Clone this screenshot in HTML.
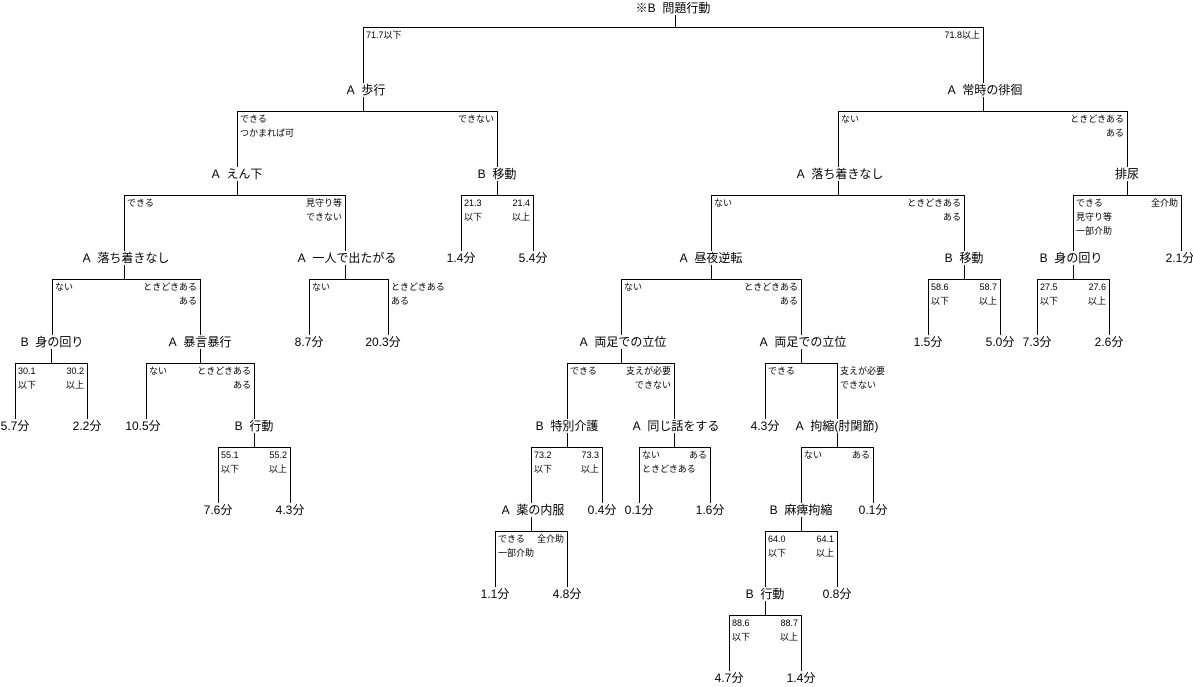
<!DOCTYPE html>
<html><head><meta charset="utf-8">
<style>
html,body{margin:0;padding:0;background:#fff;}
svg{display:block;}
text{font-family:"Liberation Sans","Noto Sans CJK JP",sans-serif;fill:#000;dominant-baseline:central;}
.n{font-size:12px;text-anchor:middle;}
.b{font-size:9px;}
.r{text-anchor:end;}
line{stroke:#000;stroke-width:1;shape-rendering:crispEdges;}
</style></head><body>
<svg width="1193" height="687" viewBox="0 0 1193 687" xmlns="http://www.w3.org/2000/svg">
<g>
<line x1="675.5" y1="15" x2="675.5" y2="27.5"/><line x1="363" y1="27.5" x2="984" y2="27.5"/>
<line x1="363.5" y1="27" x2="363.5" y2="83"/><line x1="983.5" y1="27" x2="983.5" y2="83"/>
<line x1="363.5" y1="97" x2="363.5" y2="111.5"/><line x1="237" y1="111.5" x2="498" y2="111.5"/>
<line x1="237.5" y1="111" x2="237.5" y2="167"/><line x1="497.5" y1="111" x2="497.5" y2="167"/>
<line x1="983.5" y1="97" x2="983.5" y2="111.5"/><line x1="838" y1="111.5" x2="1128" y2="111.5"/>
<line x1="838.5" y1="111" x2="838.5" y2="167"/><line x1="1127.5" y1="111" x2="1127.5" y2="167"/>
<line x1="237.5" y1="181" x2="237.5" y2="195.5"/><line x1="124" y1="195.5" x2="346" y2="195.5"/>
<line x1="124.5" y1="195" x2="124.5" y2="251"/><line x1="345.5" y1="195" x2="345.5" y2="251"/>
<line x1="497.5" y1="181" x2="497.5" y2="195.5"/><line x1="461" y1="195.5" x2="534" y2="195.5"/>
<line x1="461.5" y1="195" x2="461.5" y2="251"/><line x1="533.5" y1="195" x2="533.5" y2="251"/>
<line x1="838.5" y1="181" x2="838.5" y2="195.5"/><line x1="711" y1="195.5" x2="965" y2="195.5"/>
<line x1="711.5" y1="195" x2="711.5" y2="251"/><line x1="964.5" y1="195" x2="964.5" y2="251"/>
<line x1="1127.5" y1="181" x2="1127.5" y2="195.5"/><line x1="1073" y1="195.5" x2="1182" y2="195.5"/>
<line x1="1073.5" y1="195" x2="1073.5" y2="251"/><line x1="1181.5" y1="195" x2="1181.5" y2="251"/>
<line x1="124.5" y1="265" x2="124.5" y2="279.5"/><line x1="52" y1="279.5" x2="201" y2="279.5"/>
<line x1="52.5" y1="279" x2="52.5" y2="335"/><line x1="200.5" y1="279" x2="200.5" y2="335"/>
<line x1="345.5" y1="265" x2="345.5" y2="279.5"/><line x1="309" y1="279.5" x2="389" y2="279.5"/>
<line x1="309.5" y1="279" x2="309.5" y2="335"/><line x1="388.5" y1="279" x2="388.5" y2="335"/>
<line x1="711.5" y1="265" x2="711.5" y2="279.5"/><line x1="621" y1="279.5" x2="802" y2="279.5"/>
<line x1="621.5" y1="279" x2="621.5" y2="335"/><line x1="801.5" y1="279" x2="801.5" y2="335"/>
<line x1="964.5" y1="265" x2="964.5" y2="279.5"/><line x1="928" y1="279.5" x2="1001" y2="279.5"/>
<line x1="928.5" y1="279" x2="928.5" y2="335"/><line x1="1000.5" y1="279" x2="1000.5" y2="335"/>
<line x1="1073.5" y1="265" x2="1073.5" y2="279.5"/><line x1="1037" y1="279.5" x2="1110" y2="279.5"/>
<line x1="1037.5" y1="279" x2="1037.5" y2="335"/><line x1="1109.5" y1="279" x2="1109.5" y2="335"/>
<line x1="51.5" y1="349" x2="51.5" y2="363.5"/><line x1="15" y1="363.5" x2="88" y2="363.5"/>
<line x1="15.5" y1="363" x2="15.5" y2="419"/><line x1="87.5" y1="363" x2="87.5" y2="419"/>
<line x1="200.5" y1="349" x2="200.5" y2="363.5"/><line x1="146" y1="363.5" x2="255" y2="363.5"/>
<line x1="146.5" y1="363" x2="146.5" y2="419"/><line x1="254.5" y1="363" x2="254.5" y2="419"/>
<line x1="621.5" y1="349" x2="621.5" y2="363.5"/><line x1="567" y1="363.5" x2="675" y2="363.5"/>
<line x1="567.5" y1="363" x2="567.5" y2="419"/><line x1="674.5" y1="363" x2="674.5" y2="419"/>
<line x1="801.5" y1="349" x2="801.5" y2="363.5"/><line x1="765" y1="363.5" x2="838" y2="363.5"/>
<line x1="765.5" y1="363" x2="765.5" y2="419"/><line x1="837.5" y1="363" x2="837.5" y2="419"/>
<line x1="254.5" y1="433" x2="254.5" y2="447.5"/><line x1="218" y1="447.5" x2="291" y2="447.5"/>
<line x1="218.5" y1="447" x2="218.5" y2="503"/><line x1="290.5" y1="447" x2="290.5" y2="503"/>
<line x1="567.5" y1="433" x2="567.5" y2="447.5"/><line x1="531" y1="447.5" x2="603" y2="447.5"/>
<line x1="531.5" y1="447" x2="531.5" y2="503"/><line x1="602.5" y1="447" x2="602.5" y2="503"/>
<line x1="674.5" y1="433" x2="674.5" y2="447.5"/><line x1="639" y1="447.5" x2="711" y2="447.5"/>
<line x1="639.5" y1="447" x2="639.5" y2="503"/><line x1="710.5" y1="447" x2="710.5" y2="503"/>
<line x1="837.5" y1="433" x2="837.5" y2="447.5"/><line x1="801" y1="447.5" x2="874" y2="447.5"/>
<line x1="801.5" y1="447" x2="801.5" y2="503"/><line x1="873.5" y1="447" x2="873.5" y2="503"/>
<line x1="531.5" y1="517" x2="531.5" y2="531.5"/><line x1="495" y1="531.5" x2="568" y2="531.5"/>
<line x1="495.5" y1="531" x2="495.5" y2="587"/><line x1="567.5" y1="531" x2="567.5" y2="587"/>
<line x1="801.5" y1="517" x2="801.5" y2="531.5"/><line x1="765" y1="531.5" x2="838" y2="531.5"/>
<line x1="765.5" y1="531" x2="765.5" y2="587"/><line x1="837.5" y1="531" x2="837.5" y2="587"/>
<line x1="765.5" y1="601" x2="765.5" y2="615.5"/><line x1="729" y1="615.5" x2="802" y2="615.5"/>
<line x1="729.5" y1="615" x2="729.5" y2="671"/><line x1="801.5" y1="615" x2="801.5" y2="671"/>
</g>

<g class="n">
<text x="673" y="8" class="n">※B&#160;&#160;問題行動</text>
<text x="366" y="90" class="n">A&#160;&#160;歩行</text>
<text x="985" y="90" class="n">A&#160;&#160;常時の徘徊</text>
<text x="237" y="174" class="n">A&#160;&#160;えん下</text>
<text x="497" y="174" class="n">B&#160;&#160;移動</text>
<text x="840" y="174" class="n">A&#160;&#160;落ち着きなし</text>
<text x="1127" y="174" class="n">排尿</text>
<text x="126" y="258" class="n">A&#160;&#160;落ち着きなし</text>
<text x="347" y="258" class="n">A&#160;&#160;一人で出たがる</text>
<text x="461" y="258" class="n">1.4分</text>
<text x="533" y="258" class="n">5.4分</text>
<text x="711" y="258" class="n">A&#160;&#160;昼夜逆転</text>
<text x="964" y="258" class="n">B&#160;&#160;移動</text>
<text x="1071" y="258" class="n">B&#160;&#160;身の回り</text>
<text x="1180" y="258" class="n">2.1分</text>
<text x="52" y="342" class="n">B&#160;&#160;身の回り</text>
<text x="200" y="342" class="n">A&#160;&#160;暴言暴行</text>
<text x="309" y="342" class="n">8.7分</text>
<text x="383" y="342" class="n">20.3分</text>
<text x="623" y="342" class="n">A&#160;&#160;両足での立位</text>
<text x="803" y="342" class="n">A&#160;&#160;両足での立位</text>
<text x="928" y="342" class="n">1.5分</text>
<text x="1000" y="342" class="n">5.0分</text>
<text x="1037" y="342" class="n">7.3分</text>
<text x="1109" y="342" class="n">2.6分</text>
<text x="15" y="426" class="n">5.7分</text>
<text x="87" y="426" class="n">2.2分</text>
<text x="143" y="426" class="n">10.5分</text>
<text x="254" y="426" class="n">B&#160;&#160;行動</text>
<text x="567" y="426" class="n">B&#160;&#160;特別介護</text>
<text x="676" y="426" class="n">A&#160;&#160;同じ話をする</text>
<text x="765" y="426" class="n">4.3分</text>
<text x="837" y="426" class="n">A&#160;&#160;拘縮(肘関節)</text>
<text x="218" y="510" class="n">7.6分</text>
<text x="290" y="510" class="n">4.3分</text>
<text x="533" y="510" class="n">A&#160;&#160;薬の内服</text>
<text x="602" y="510" class="n">0.4分</text>
<text x="639" y="510" class="n">0.1分</text>
<text x="710" y="510" class="n">1.6分</text>
<text x="801" y="510" class="n">B&#160;&#160;麻痺拘縮</text>
<text x="873" y="510" class="n">0.1分</text>
<text x="495" y="594" class="n">1.1分</text>
<text x="567" y="594" class="n">4.8分</text>
<text x="765" y="594" class="n">B&#160;&#160;行動</text>
<text x="837" y="594" class="n">0.8分</text>
<text x="729" y="678" class="n">4.7分</text>
<text x="801" y="678" class="n">1.4分</text>
</g>

<g class="b">
<text class="b" x="366" y="35">71.7以下</text>
<text class="b r" x="980" y="35">71.8以上</text>
<text class="b" x="240" y="119">できる</text>
<text class="b" x="240" y="133">つかまれば可</text>
<text class="b r" x="494" y="119">できない</text>
<text class="b" x="841" y="119">ない</text>
<text class="b r" x="1124" y="119">ときどきある</text>
<text class="b r" x="1124" y="133">ある</text>
<text class="b" x="127" y="203">できる</text>
<text class="b r" x="342" y="203">見守り等</text>
<text class="b r" x="342" y="217">できない</text>
<text class="b" x="464" y="203">21.3</text>
<text class="b" x="464" y="217">以下</text>
<text class="b r" x="530" y="203">21.4</text>
<text class="b r" x="530" y="217">以上</text>
<text class="b" x="714" y="203">ない</text>
<text class="b r" x="961" y="203">ときどきある</text>
<text class="b r" x="961" y="217">ある</text>
<text class="b" x="1076" y="203">できる</text>
<text class="b" x="1076" y="217">見守り等</text>
<text class="b" x="1076" y="231">一部介助</text>
<text class="b r" x="1178" y="203">全介助</text>
<text class="b" x="55" y="287">ない</text>
<text class="b r" x="197" y="287">ときどきある</text>
<text class="b r" x="197" y="301">ある</text>
<text class="b" x="312" y="287">ない</text>
<text class="b" x="391" y="287">ときどきある</text>
<text class="b" x="391" y="301">ある</text>
<text class="b" x="624" y="287">ない</text>
<text class="b r" x="798" y="287">ときどきある</text>
<text class="b r" x="798" y="301">ある</text>
<text class="b" x="931" y="287">58.6</text>
<text class="b" x="931" y="301">以下</text>
<text class="b r" x="997" y="287">58.7</text>
<text class="b r" x="997" y="301">以上</text>
<text class="b" x="1040" y="287">27.5</text>
<text class="b" x="1040" y="301">以下</text>
<text class="b r" x="1106" y="287">27.6</text>
<text class="b r" x="1106" y="301">以上</text>
<text class="b" x="18" y="371">30.1</text>
<text class="b" x="18" y="385">以下</text>
<text class="b r" x="84" y="371">30.2</text>
<text class="b r" x="84" y="385">以上</text>
<text class="b" x="149" y="371">ない</text>
<text class="b r" x="251" y="371">ときどきある</text>
<text class="b r" x="251" y="385">ある</text>
<text class="b" x="570" y="371">できる</text>
<text class="b r" x="671" y="371">支えが必要</text>
<text class="b r" x="671" y="385">できない</text>
<text class="b" x="768" y="371">できる</text>
<text class="b" x="840" y="371">支えが必要</text>
<text class="b" x="840" y="385">できない</text>
<text class="b" x="221" y="455">55.1</text>
<text class="b" x="221" y="469">以下</text>
<text class="b r" x="287" y="455">55.2</text>
<text class="b r" x="287" y="469">以上</text>
<text class="b" x="534" y="455">73.2</text>
<text class="b" x="534" y="469">以下</text>
<text class="b r" x="599" y="455">73.3</text>
<text class="b r" x="599" y="469">以上</text>
<text class="b" x="642" y="455">ない</text>
<text class="b" x="642" y="469">ときどきある</text>
<text class="b r" x="707" y="455">ある</text>
<text class="b" x="804" y="455">ない</text>
<text class="b r" x="870" y="455">ある</text>
<text class="b" x="498" y="539">できる</text>
<text class="b" x="498" y="553">一部介助</text>
<text class="b r" x="564" y="539">全介助</text>
<text class="b" x="768" y="539">64.0</text>
<text class="b" x="768" y="553">以下</text>
<text class="b r" x="834" y="539">64.1</text>
<text class="b r" x="834" y="553">以上</text>
<text class="b" x="732" y="623">88.6</text>
<text class="b" x="732" y="637">以下</text>
<text class="b r" x="798" y="623">88.7</text>
<text class="b r" x="798" y="637">以上</text>
</g>
</svg>
</body></html>
